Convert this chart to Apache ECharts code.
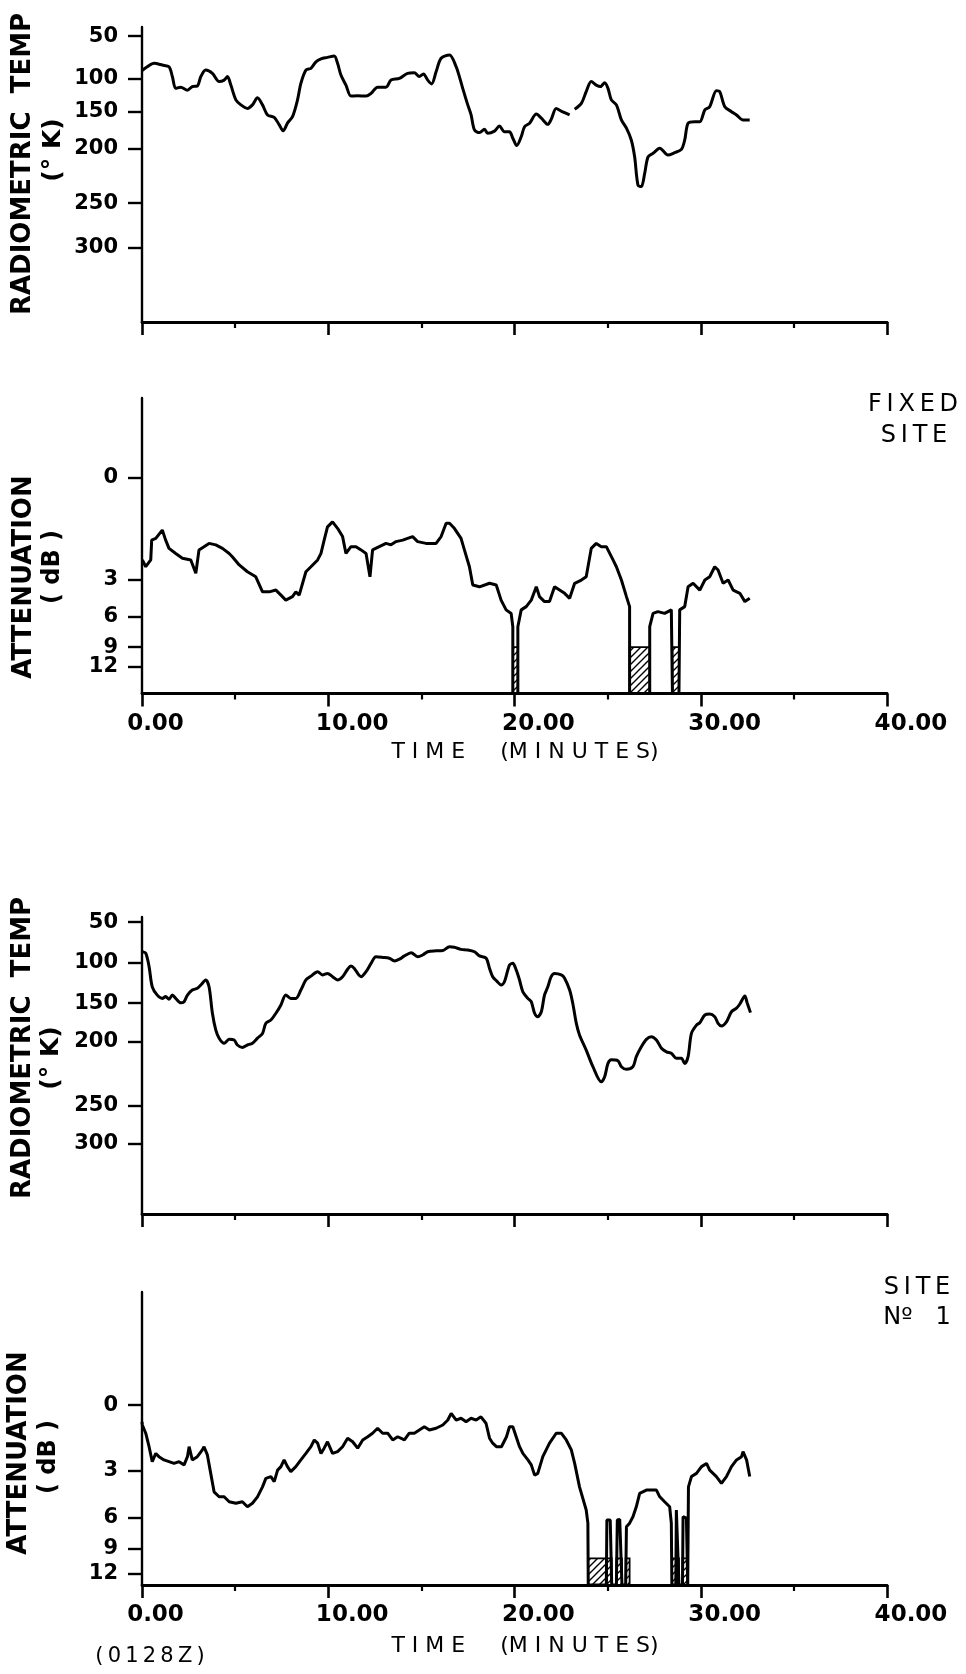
<!DOCTYPE html>
<html>
<head>
<meta charset="utf-8">
<script src="https://cdn.jsdelivr.net/npm/echarts@6/dist/echarts.min.js"></script>
<style>html,body{margin:0;padding:0;background:#fff}#c{width:966px;height:1674px}</style>
</head>
<body>
<div id="c"></div>
<script>
// ---- Data (time in minutes; trace levels in recorder chart units, 0 = baseline, 100 = top of axis) ----
const timeTickLabels = ['0.00', '10.00', '20.00', '30.00', '40.00'];
const tempTickLabels = ['50', '100', '150', '200', '250', '300'];
const attenTickLabels = ['0', '3', '6', '9', '12'];
// calibration marks of each strip (chart units where each label sits)
const fixedTempTickLevels = [96.9, 82.5, 71.2, 58.8, 40.3, 25.1];
const fixedAttenTickLevels = [73.1, 38.4, 25.9, 15.7, 9.0];
const site1TempTickLevels = [98.3, 84.5, 71.0, 57.9, 36.4, 23.6];
const site1AttenTickLevels = [61.4, 38.9, 22.9, 12.3, 3.8];

const fixedTempTrace = [[0,85.2],[0.28,86.5],[0.65,87.7],[1.09,87.1],[1.45,86.5],[1.63,83.2],[1.81,79.2],[2.08,79.6],[2.44,78.6],[2.70,79.8],[2.97,80.0],[3.16,83.2],[3.42,85.4],[3.78,84.3],[4.14,81.5],[4.41,82.0],[4.59,83.2],[4.77,80.3],[5.04,75.3],[5.31,73.6],[5.66,72.4],[5.93,73.6],[6.20,76.0],[6.47,73.6],[6.74,70.2],[7.10,69.4],[7.37,66.8],[7.58,64.8],[7.81,67.4],[8.08,69.6],[8.35,75.3],[8.53,80.9],[8.80,85.4],[9.07,86.0],[9.34,88.2],[9.61,89.2],[9.96,89.7],[10.32,90.2],[10.50,87.7],[10.68,83.7],[10.95,80.3],[11.22,76.6],[11.58,76.7],[12.03,76.6],[12.30,77.5],[12.65,79.6],[13.10,79.6],[13.37,82.0],[13.82,82.6],[14.26,84.3],[14.62,84.5],[14.89,83.2],[15.11,84.1],[15.34,82.0],[15.55,80.7],[15.79,84.8],[16.06,89.4],[16.51,90.5],[16.87,86.5],[17.04,83.2],[17.22,79.2],[17.49,73.6],[17.67,70.2],[17.85,65.1],[18.12,64.2],[18.39,65.3],[18.56,64.0],[18.92,64.7],[19.19,66.4],[19.46,64.5],[19.73,64.5],[19.91,62.3],[20.12,59.8],[20.36,62.8],[20.54,66.2],[20.81,67.4],[21.17,70.5],[21.44,69.1],[21.79,67.0],[21.97,68.7],[22.24,72.4],[22.51,71.5],[22.96,70.2],[23.08,null],[23.23,72.1],[23.59,74.1],[23.85,78.1],[24.12,81.5],[24.39,80.3],[24.61,79.8],[24.84,81.1],[25.02,79.2],[25.20,75.3],[25.47,73.6],[25.74,68.5],[26.01,65.7],[26.27,61.7],[26.45,56.0],[26.63,46.4],[26.81,45.9],[26.99,50.4],[27.17,56.0],[27.44,57.2],[27.80,58.9],[28.24,56.6],[28.60,57.4],[28.96,58.5],[29.14,61.7],[29.32,67.4],[29.68,67.9],[29.95,67.9],[30.22,71.9],[30.48,73.0],[30.84,78.4],[31.02,78.1],[31.29,73.0],[31.65,71.3],[31.92,70.2],[32.27,68.5],[32.63,68.5]];

const fixedAttenTrace = [[0.02,45.2],[0.20,42.9],[0.47,45.2],[0.52,51.9],[0.74,52.5],[1.09,55.3],[1.27,51.9],[1.45,49.1],[1.81,47.4],[2.17,45.8],[2.62,45.2],[2.89,40.7],[3.06,48.6],[3.33,49.7],[3.60,50.8],[3.96,50.3],[4.32,49.1],[4.68,47.4],[4.85,46.3],[5.22,43.5],[5.66,41.2],[6.11,39.5],[6.47,34.4],[6.83,34.4],[7.19,35.0],[7.46,33.3],[7.72,31.6],[8.08,32.8],[8.26,34.4],[8.44,33.3],[8.80,41.2],[9.07,42.9],[9.43,45.2],[9.61,47.4],[9.78,51.9],[9.96,56.4],[10.23,58.1],[10.50,55.9],[10.77,53.1],[10.95,47.4],[11.22,49.7],[11.49,49.7],[11.76,48.6],[12.03,47.4],[12.24,39.5],[12.38,48.6],[12.74,49.7],[13.10,50.8],[13.37,50.3],[13.64,51.4],[14.00,51.9],[14.26,52.5],[14.53,53.1],[14.80,51.4],[15.25,50.8],[15.79,50.8],[16.06,53.1],[16.33,57.6],[16.51,57.6],[16.77,55.9],[17.13,52.5],[17.31,48.6],[17.58,42.9],[17.76,36.7],[18.12,36.1],[18.66,37.3],[19.02,36.7],[19.28,31.6],[19.55,28.3],[19.82,27.1],[19.91,22.6],[19.91,0],[20.18,0],[20.18,22.6],[20.36,28.3],[20.63,29.4],[20.90,31.6],[21.17,36.1],[21.34,32.8],[21.61,31.1],[21.88,31.1],[22.15,36.1],[22.42,35.0],[22.69,33.9],[22.96,32.2],[23.23,37.3],[23.59,38.4],[23.85,39.5],[24.12,49.1],[24.39,50.8],[24.66,49.7],[24.93,49.7],[25.29,45.2],[25.47,42.9],[25.74,38.4],[26.01,32.8],[26.18,29.4],[26.18,0],[27.26,0],[27.26,22.6],[27.44,27.1],[27.70,27.7],[28.06,27.1],[28.42,28.3],[28.48,0],[28.83,0],[28.87,28.3],[29.14,29.4],[29.32,36.1],[29.59,37.3],[29.95,35.0],[30.22,38.4],[30.48,39.5],[30.75,42.9],[30.93,41.8],[31.20,37.3],[31.47,38.4],[31.74,35.0],[32.10,33.9],[32.37,31.1],[32.63,32.2]];

const site1TempTrace = [[0.02,88.3],[0.20,87.8],[0.38,83.3],[0.55,76.5],[0.82,73.7],[1.09,72.6],[1.27,73.2],[1.45,72.3],[1.63,73.7],[1.81,72.6],[2.08,71.1],[2.26,71.5],[2.44,73.7],[2.70,75.4],[2.97,76.0],[3.16,77.1],[3.42,78.8],[3.60,76.5],[3.78,67.6],[3.96,62.0],[4.14,59.2],[4.41,57.5],[4.68,58.8],[4.95,58.6],[5.12,56.9],[5.39,56.1],[5.66,56.9],[5.93,57.5],[6.20,59.2],[6.47,60.8],[6.65,64.2],[6.92,65.3],[7.19,67.6],[7.46,70.4],[7.72,73.7],[7.99,72.6],[8.26,72.6],[8.53,75.4],[8.80,78.8],[9.07,80.1],[9.43,81.6],[9.69,80.5],[9.96,81.0],[10.23,79.9],[10.50,78.8],[10.77,79.9],[11.04,82.4],[11.22,83.5],[11.40,82.7],[11.58,81.0],[11.76,79.9],[12.03,81.6],[12.30,84.4],[12.56,86.6],[12.92,86.4],[13.28,86.1],[13.55,85.2],[13.82,85.8],[14.09,86.9],[14.45,88.0],[14.80,86.6],[15.07,87.2],[15.34,88.3],[15.79,88.6],[16.15,88.7],[16.51,90.0],[16.77,89.8],[17.13,89.1],[17.49,88.9],[17.85,88.3],[18.12,86.9],[18.48,86.1],[18.66,82.7],[18.83,79.9],[19.05,78.4],[19.28,77.1],[19.46,78.2],[19.73,83.8],[19.91,84.4],[20.09,82.2],[20.27,78.8],[20.45,74.8],[20.72,72.6],[20.90,71.5],[21.08,67.6],[21.25,66.4],[21.44,68.1],[21.61,73.7],[21.79,76.5],[21.97,79.9],[22.15,81.0],[22.51,80.5],[22.69,79.4],[22.96,75.4],[23.13,70.9],[23.32,64.2],[23.49,60.3],[23.85,55.2],[24.21,49.6],[24.66,44.5],[24.84,46.2],[25.02,50.7],[25.20,51.9],[25.55,51.6],[25.74,49.6],[26.01,48.7],[26.36,49.6],[26.54,53.0],[26.81,56.3],[27.08,58.8],[27.35,59.7],[27.62,58.6],[27.89,55.8],[28.16,54.6],[28.42,54.1],[28.69,52.4],[28.96,52.4],[29.14,50.7],[29.32,53.0],[29.50,60.8],[29.77,63.6],[29.95,64.4],[30.22,67.0],[30.48,67.3],[30.75,66.4],[30.93,64.2],[31.11,63.3],[31.38,64.7],[31.65,68.1],[31.92,69.3],[32.10,70.7],[32.37,73.4],[32.49,71.1],[32.67,67.8]];

const site1AttenTrace = [[0,55.7],[0.02,54.6],[0.20,51.8],[0.38,47.2],[0.55,42.1],[0.74,44.9],[0.91,43.8],[1.18,42.7],[1.45,42.1],[1.72,41.5],[1.99,42.1],[2.26,41.0],[2.44,43.8],[2.53,47.2],[2.70,42.7],[2.97,43.8],[3.24,46.1],[3.33,47.2],[3.51,44.4],[3.69,38.1],[3.87,31.8],[4.14,30.1],[4.41,30.1],[4.68,28.4],[5.04,27.9],[5.39,28.4],[5.66,26.7],[5.93,27.9],[6.20,30.1],[6.47,33.5],[6.65,36.4],[6.92,37.0],[7.10,35.3],[7.28,39.2],[7.46,40.4],[7.63,42.7],[7.81,40.4],[7.99,38.7],[8.26,40.4],[8.53,42.7],[8.80,44.9],[9.07,47.2],[9.25,49.5],[9.43,48.4],[9.61,44.9],[9.78,46.7],[9.96,48.9],[10.23,44.9],[10.50,45.5],[10.77,47.2],[11.04,50.1],[11.31,48.9],[11.58,46.7],[11.85,49.5],[12.12,50.6],[12.38,51.8],[12.65,53.5],[12.92,51.8],[13.19,51.8],[13.46,49.5],[13.73,50.6],[14.09,49.5],[14.35,51.8],[14.62,51.8],[14.89,52.9],[15.16,54.0],[15.43,52.9],[15.79,53.5],[16.15,54.6],[16.42,56.3],[16.60,58.6],[16.87,56.3],[17.13,56.9],[17.40,55.7],[17.67,56.9],[17.94,56.3],[18.20,57.4],[18.47,55.2],[18.66,50.1],[18.83,48.4],[19.03,47.2],[19.30,47.2],[19.57,50.6],[19.73,54.0],[19.91,54.0],[20.09,50.6],[20.27,47.2],[20.45,44.9],[20.72,42.7],[20.90,41.0],[21.08,37.5],[21.25,38.1],[21.52,43.8],[21.88,48.4],[22.24,51.8],[22.51,51.8],[22.78,49.5],[23.05,46.1],[23.23,41.5],[23.49,33.5],[23.85,25.6],[23.94,21.1],[23.96,0],[24.93,0],[24.96,22.2],[25.14,22.2],[25.22,0],[25.47,0],[25.52,22.2],[25.65,22.4],[25.77,0],[25.97,0],[26.01,19.9],[26.18,21.1],[26.36,23.3],[26.54,26.7],[26.72,31.3],[27.08,32.4],[27.44,32.4],[27.62,32.4],[27.80,30.1],[28.06,28.4],[28.33,26.7],[28.42,21.1],[28.45,0],[28.66,0],[28.69,25.6],[28.83,0],[29.02,0],[29.05,23.3],[29.23,22.8],[29.30,0],[29.34,33.5],[29.50,37.0],[29.77,38.1],[30.04,40.4],[30.31,41.5],[30.48,39.2],[30.84,37.0],[31.11,34.7],[31.38,37.0],[31.65,40.4],[31.92,42.7],[32.19,43.8],[32.27,45.5],[32.46,42.7],[32.63,37.0]];

// deep-fade intervals (minutes) shown hatched, and the level of the hatch top
const fixedFades = [[19.91, 20.18], [26.18, 27.26], [28.48, 28.83]];
const fixedFadeTop = 15.7;
const site1Fades = [[23.94, 24.93], [24.96, 25.22], [25.47, 25.77], [25.97, 26.18], [28.45, 28.83], [29.02, 29.30]];
const site1FadeTop = 9.1;

// ---- Chart ----
const FONT = '"DejaVu Sans", sans-serif';
function hatchCanvas() {
  const c = document.createElement('canvas');
  c.width = 7; c.height = 7;
  const g = c.getContext('2d');
  g.strokeStyle = '#000'; g.lineWidth = 1.4;
  g.beginPath();
  g.moveTo(-1, 8); g.lineTo(8, -1);
  g.moveTo(-1, 1); g.lineTo(1, -1);
  g.moveTo(6, 8); g.lineTo(8, 6);
  g.stroke();
  return c;
}
const hatch = { image: hatchCanvas(), repeat: 'repeat' };

const grids = [
  { left: 142, right: 79, top: 27, height: 295 },
  { left: 142, right: 79, top: 398, height: 295.5 },
  { left: 142, right: 79, top: 917, height: 297 },
  { left: 142, right: 79, top: 1292, height: 293 }
].map(g => Object.assign({ outerBoundsMode: 'none', containLabel: false }, g));

function xAxis(i, showLabels) {
  return {
    type: 'value', gridIndex: i, min: 0, max: 40, interval: 10,
    axisLine: { onZero: false, lineStyle: { color: '#000', width: 2.8 } },
    axisTick: { show: true, length: 13, lineStyle: { color: '#000', width: 2.6 } },
    minorTick: { show: true, splitNumber: 2, length: 6, lineStyle: { color: '#000', width: 2.2 } },
    splitLine: { show: false }, minorSplitLine: { show: false },
    axisLabel: {
      show: showLabels, margin: 19, color: '#000', hideOverlap: false,
      showMinLabel: true, showMaxLabel: true,
      fontFamily: FONT, fontWeight: 'bold', fontSize: 23,
      formatter: v => {
        const s = timeTickLabels[Math.round(v / 10)];
        return v === 0 ? '{a|' + s + '}' : '{b|' + s + '}';
      },
      rich: {
        a: { fontFamily: FONT, fontWeight: 'bold', fontSize: 23, color: '#000', padding: [0, 0, 0, 27] },
        b: { fontFamily: FONT, fontWeight: 'bold', fontSize: 23, color: '#000', padding: [0, 0, 0, 48] }
      }
    }
  };
}
// shown: which of the calibration marks this axis draws (close marks are split over two axes
// of the same grid so the library does not drop a label for overlapping its neighbour)
function yAxis(i, levels, labels, shown, drawLine) {
  const vals = levels.filter((l, j) => shown(j));
  return {
    type: 'value', gridIndex: i, min: 0, max: 100, position: 'left', offset: 0,
    axisLine: { show: drawLine, onZero: false, lineStyle: { color: '#000', width: 2.4 } },
    axisTick: { show: true, customValues: vals, length: 14, lineStyle: { color: '#000', width: 2.4 } },
    axisLabel: {
      customValues: vals, margin: 24, color: '#000', hideOverlap: false,
      showMinLabel: true, showMaxLabel: true,
      fontFamily: FONT, fontWeight: 'bold', fontSize: 21,
      formatter: v => {
        let k = 0, best = Infinity;
        levels.forEach((l, j) => { const d = Math.abs(l - v); if (d < best) { best = d; k = j; } });
        return labels[k];
      }
    },
    splitLine: { show: false }
  };
}
function trace(i, data, smooth, fades, fadeTop) {
  const s = {
    type: 'line', xAxisIndex: i, yAxisIndex: i, data: data,
    showSymbol: false, symbol: 'none', connectNulls: false, animation: false,
    smooth: smooth,
    lineStyle: { color: '#000', width: 3 }, silent: true
  };
  if (fades) {
    s.markArea = {
      silent: true,
      itemStyle: { color: hatch, borderColor: '#000', borderWidth: 1.8, opacity: 1 },
      data: fades.map(f => [{ xAxis: f[0], yAxis: 0 }, { xAxis: f[1], yAxis: fadeTop }])
    };
  }
  return s;
}
function vtext(x, y, text, size, weight) {
  return {
    type: 'text', x: x, y: y, rotation: Math.PI / 2, silent: true,
    style: { text: text, fontFamily: FONT, fontSize: size, fontWeight: weight || 'bold', fill: '#000', align: 'center', verticalAlign: 'middle' }
  };
}
function htext(x, y, text, size, weight) {
  return {
    type: 'text', x: x, y: y, silent: true,
    style: { text: text, fontFamily: FONT, fontSize: size, fontWeight: weight || 'normal', fill: '#000', align: 'center', verticalAlign: 'middle' }
  };
}
const all = () => true, even = j => j % 2 === 0, odd = j => j % 2 === 1;
const ts = '\u2009';
const option = {
  animation: false,
  backgroundColor: '#fff',
  grid: grids,
  xAxis: [xAxis(0, false), xAxis(1, true), xAxis(2, false), xAxis(3, true)],
  yAxis: [
    yAxis(0, fixedTempTickLevels, tempTickLabels, all, true),
    yAxis(1, fixedAttenTickLevels, attenTickLabels, even, true),
    yAxis(2, site1TempTickLevels, tempTickLabels, all, true),
    yAxis(3, site1AttenTickLevels, attenTickLabels, even, true),
    yAxis(1, fixedAttenTickLevels, attenTickLabels, odd, false),
    yAxis(3, site1AttenTickLevels, attenTickLabels, odd, false)
  ],
  series: [
    trace(0, fixedTempTrace, 0.3),
    trace(1, fixedAttenTrace, false, fixedFades, fixedFadeTop),
    trace(2, site1TempTrace, 0.3),
    trace(3, site1AttenTrace, false, site1Fades, site1FadeTop)
  ],
  graphic: [
    vtext(23, 164, 'RADIOMETRIC  TEMP', 26),
    vtext(53, 150, '(° K)', 25),
    vtext(24, 577, 'ATTENUATION', 26),
    vtext(53, 567, '( dB )', 24),
    vtext(23, 1048, 'RADIOMETRIC  TEMP', 26),
    vtext(51, 1058, '(° K)', 25),
    vtext(19, 1453, 'ATTENUATION', 26),
    vtext(49, 1457, '( dB )', 24),
    htext(525, 752, 'T I M E     (M I N U T E S)', 22),
    htext(525, 1646, 'T I M E     (M I N U T E S)', 22),
    htext(913, 405, ['F', 'I', 'X', 'E', 'D'].join(ts), 24),
    htext(914, 436, ['S', 'I', 'T', 'E'].join(ts), 24),
    htext(917, 1288, ['S', 'I', 'T', 'E'].join(ts), 24),
    htext(917, 1318, 'N\u00BA   1', 24),
    htext(150, 1657, ['(', '0', '1', '2', '8', 'Z', ')'].join(ts), 21)
  ]
};
const chart = echarts.init(document.getElementById('c'), null, { renderer: 'canvas', width: 966, height: 1674 });
chart.setOption(option);
</script>
</body>
</html>
